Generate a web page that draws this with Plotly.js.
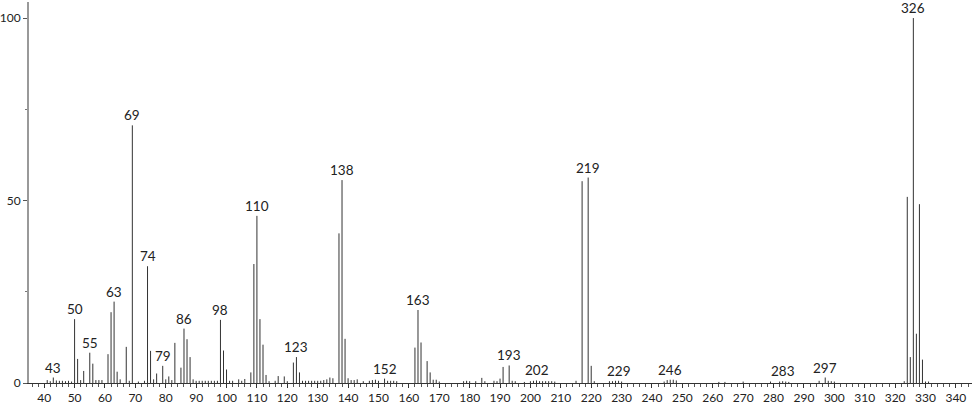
<!DOCTYPE html>
<html>
<head>
<meta charset="utf-8">
<script src="https://cdn.plot.ly/plotly-3.0.1.min.js"></script>
<style>html,body{margin:0;padding:0;background:#fff;}#chart{width:974px;height:406px;}</style>
</head>
<body>
<div id="chart"></div>
<script>
// m/z values and relative intensities (%)
const mz = [41,42,43,44,45,46,47,48,49,50,51,52,53,55,56,57,58,59,61,62,63,64,65,67,68,69,71,73,74,75,76,77,79,80,81,82,83,85,86,87,88,89,90,91,92,93,94,95,96,97,98,99,100,101,102,104,105,106,108,109,110,111,112,113,114,116,117,119,120,122,123,124,125,126,127,128,129,130,131,132,133,134,135,137,138,139,140,141,142,143,145,147,148,149,150,152,153,154,155,156,162,163,164,166,167,168,169,170,178,179,180,182,184,185,188,189,190,191,193,194,195,198,200,201,202,203,204,205,206,207,208,215,217,219,220,221,226,227,228,229,230,244,245,246,247,248,262,264,270,279,282,283,284,285,295,297,298,299,300,323,324,325,326,327,328,329,330,331];
const intensity = [0.8,0.5,1.5,0.7,0.6,0.6,0.5,0.6,0.4,17.5,6.6,0.8,3.3,8.3,5.3,0.8,0.8,0.8,7.9,19.4,22.3,3.1,1.0,9.9,0.6,70.6,0.4,0.6,32,8.8,1.0,2.6,4.7,1.0,1.8,0.8,11,4.2,14.9,12,7.1,1.0,0.6,0.6,0.6,0.6,0.6,0.6,0.6,0.6,17.3,8.9,3.7,0.6,0.6,1.0,0.6,1.1,2.9,32.6,45.8,17.5,10.5,2.2,0.5,0.6,1.9,1.8,0.5,5.6,7.1,2.9,0.6,0.6,0.6,0.6,0.6,0.6,0.6,0.8,1.0,1.5,1.3,41,55.6,12.1,1.3,0.8,0.8,1.0,0.5,0.6,0.8,0.9,0.6,1.2,0.6,0.6,0.6,0.5,9.7,20,11.1,6,2.9,0.9,0.9,0.4,0.5,0.6,0.5,0.5,1.4,0.5,0.6,0.5,1.2,4.4,4.8,0.6,0.5,0.3,0.5,0.6,0.7,0.5,0.5,0.5,0.5,0.5,0.4,0.6,55.3,56.3,4.7,0.5,0.5,0.5,0.6,0.6,0.4,0.4,0.8,0.9,0.9,0.7,0.3,0.3,0.4,0.4,0.4,0.5,0.4,0.3,0.6,1.5,0.6,0.5,0.4,0.5,51,7.1,100,13.5,49,6.4,0.4,0.4];
// labelled peaks
const labelMz = [43,50,55,63,69,74,79,86,98,110,123,138,152,163,193,202,219,229,246,283,297,326];
// axis ticks
const xTickVals = [40,50,60,70,80,90,100,110,120,130,140,150,160,170,180,190,200,210,220,230,240,250,260,270,280,290,300,310,320,330,340];
const yTickVals = [0,50,100];

const xs = [], ys = [];
mz.forEach((m, i) => { xs.push(m, m, null); ys.push(0, intensity[i], null); });

const annotations = labelMz.map(m => ({
  x: m, y: intensity[mz.indexOf(m)], text: String(m),
  showarrow: false, xanchor: 'center', yanchor: 'bottom', yshift: 0,
  font: {family: 'Lato, "DejaVu Sans", sans-serif', size: 13.5, color: '#222'}
}));

const font = {family: 'Lato, "DejaVu Sans", sans-serif', size: 12, color: '#222'};

Plotly.newPlot('chart', [{
  x: xs, y: ys, type: 'scatter', mode: 'lines',
  line: {color: '#333', width: 1}, hoverinfo: 'skip', showlegend: false
}], {
  width: 974, height: 406,
  margin: {l: 29, r: 2, t: 2, b: 23, pad: 0},
  paper_bgcolor: '#fff', plot_bgcolor: '#fff',
  showlegend: false,
  xaxis: {
    range: [35, 345.3], showgrid: false, zeroline: false,
    showline: true, linecolor: '#333', linewidth: 1,
    ticks: 'outside', ticklen: 4, tickcolor: '#333', tickwidth: 1,
    tickmode: 'array', tickvals: xTickVals, ticktext: xTickVals.map(String),
    minor: {dtick: 2, tick0: 0, ticks: 'outside', ticklen: 2.5, tickcolor: '#555', showgrid: false},
    tickfont: font, fixedrange: true
  },
  yaxis: {
    range: [0, 104.4], showgrid: false, zeroline: false,
    showline: true, linecolor: '#999', linewidth: 2,
    ticks: 'outside', ticklen: 4, tickcolor: '#555', tickwidth: 1,
    tickmode: 'array', tickvals: yTickVals, ticktext: yTickVals.map(String),
    minor: {tickvals: [25, 75], ticks: 'outside', ticklen: 2, tickcolor: '#777', showgrid: false},
    tickfont: font, fixedrange: true
  },
  annotations: annotations
}, {staticPlot: true, displayModeBar: false});
</script>
</body>
</html>
